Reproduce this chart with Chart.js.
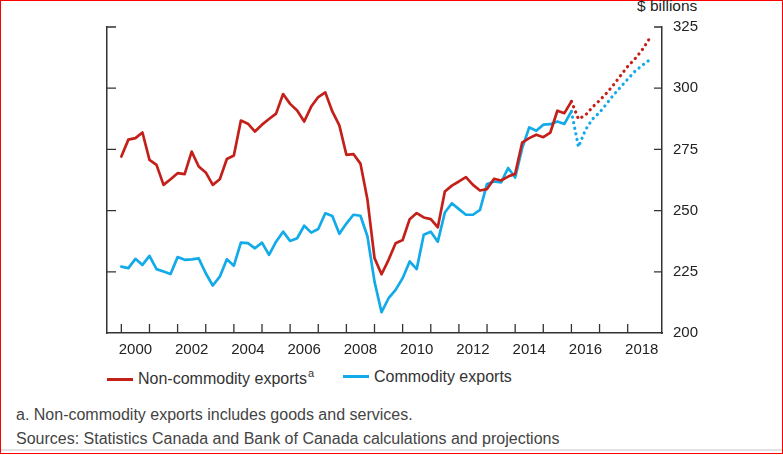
<!DOCTYPE html>
<html lang="en">
<head>
    <meta charset="UTF-8">
    <title>Non-commodity and commodity exports</title>
    <script src="https://cdn.jsdelivr.net/npm/chart.js"></script>
    <style>
        html, body { margin: 0; padding: 0; background: #fff; }
        body { width: 783px; height: 455px; overflow: hidden; position: relative;
               font-family: "Liberation Sans", Arial, sans-serif; color: #333; }
        #frame { position: absolute; left: 0; top: 0; width: 781px; height: 452px;
                 border: 1px solid #f00; }
        #strip { position: absolute; left: 1px; top: 449px; width: 781px; height: 2px; background: #e2e2e2; }
        #wrap { position: absolute; left: 0; top: 0; width: 783px; height: 360px; }
        #unit { position: absolute; left: 637px; top: -3px; font-size: 15.5px; color: #222; }
        #legend { position: absolute; left: 107px; top: 368px; font-size: 16px; color: #333; }
        .item { position: absolute; top: 0; white-space: nowrap; }
        .item i { display: inline-block; width: 26px; height: 3px; vertical-align: middle;
                  margin-right: 5px; position: relative; top: -1px; }
        .item sup { font-size: 11px; position: relative; top: -1px; margin-left: 1px; }
        .note { position: absolute; left: 16px; font-size: 16px; color: #444; white-space: nowrap; }
    </style>
</head>
<body>
<div id="frame"></div>
<div id="strip"></div>
<div id="unit">$ billions</div>
<div id="wrap"><canvas id="chart"></canvas></div>
<div id="legend">
    <div class="item" style="left:0"><i style="background:#c4201a"></i>Non-commodity exports<sup>a</sup></div>
    <div class="item" style="left:236px"><i style="background:#12aae8"></i>Commodity exports</div>
</div>
<div class="note" style="top:406px">a. Non-commodity exports includes goods and services.</div>
<div class="note" style="top:430px">Sources: Statistics Canada and Bank of Canada calculations and projections</div>

<script>
    // quarterly, 2000Q1 .. 2018Q4 ; projection starts after 2016Q1
    const startYear = 2000;
    const lastActual = 64;   // index of 2016Q1

    const nonCommodity = [
        272.1, 279.0, 279.6, 281.9, 270.7, 268.7, 260.5, 262.8,
        265.3, 264.9, 274.1, 268.0, 265.6, 260.5, 262.8, 271.1,
        272.5, 286.8, 285.5, 282.3, 285.1, 287.4, 289.6, 297.6,
        293.6, 290.9, 286.4, 292.5, 296.4, 298.3, 290.5, 284.8,
        272.8, 273.1, 269.2, 254.4, 230.6, 224.0, 229.9, 236.7,
        238.0, 246.5, 249.0, 247.2, 246.5, 243.2, 257.8, 260.2,
        261.9, 263.7, 260.5, 258.2, 258.8, 263.0, 262.3, 263.9,
        265.0, 277.8, 279.6, 281.0, 280.0, 281.9, 290.8, 289.8,
        294.6, 287.4, 289.0, 292.3, 295.0, 298.0, 301.4, 305.2,
        308.9, 311.9, 315.4, 319.8
    ];

    const commodity = [
        227.1, 226.5, 230.3, 227.8, 231.5, 226.1, 225.1, 224.1,
        231.0, 229.9, 230.1, 230.5, 224.4, 219.4, 223.0, 230.1,
        227.5, 236.9, 236.7, 234.6, 236.9, 231.9, 237.3, 241.4,
        237.6, 238.7, 243.8, 241.0, 242.5, 248.9, 247.8, 240.5,
        244.7, 248.3, 247.9, 239.4, 221.0, 208.5, 214.2, 217.6,
        222.4, 229.2, 226.1, 240.1, 241.4, 237.3, 249.2, 253.0,
        250.6, 248.3, 248.3, 250.3, 260.9, 261.9, 261.5, 267.4,
        263.5, 275.5, 284.0, 282.6, 285.1, 285.3, 286.4, 285.4,
        290.5, 276.0, 283.0, 287.4, 290.1, 293.6, 297.3, 300.5,
        303.7, 306.8, 309.2, 311.3
    ];

    const yearLabels = [2000, 2002, 2004, 2006, 2008, 2010, 2012, 2014, 2016, 2018];
    const yTicks = [200, 225, 250, 275, 300, 325];

    const toPoints = arr => arr.map((v, i) => ({ x: startYear + i / 4, y: v }));
    const isProj = ctx => ctx.p0DataIndex >= lastActual;
    const projSegment = {
        borderDash: ctx => isProj(ctx) ? [0.1, 5.6] : undefined,
        borderWidth: ctx => isProj(ctx) ? 3.2 : undefined
    };

    // short tick marks pointing into the plot, like the printed chart
    const innerTicks = {
        id: "innerTicks",
        afterDraw(chart) {
            const c = chart.ctx, a = chart.chartArea;
            const xs = chart.scales.x, ys = chart.scales.y;
            c.save();
            c.strokeStyle = "#333";
            c.lineWidth = 1.3;
            c.beginPath();
            for (let yr = 2000; yr <= 2018; yr++) {
                const px = xs.getPixelForValue(yr);
                c.moveTo(px, a.bottom);
                c.lineTo(px, a.bottom - 9);
            }
            yTicks.forEach(v => {
                if (v === 200) return;
                const py = ys.getPixelForValue(v);
                c.moveTo(a.left, py);
                c.lineTo(a.left + 9, py);
                c.moveTo(a.right, py);
                c.lineTo(a.right - 8, py);
            });
            c.stroke();
            c.restore();
        }
    };

    new Chart(document.getElementById("chart"), {
        type: "line",
        data: {
            datasets: [{
                label: "Non-commodity exports",
                data: toPoints(nonCommodity),
                borderColor: "#c4201a",
                borderWidth: 2.7,
                borderCapStyle: "round",
                borderJoinStyle: "round",
                pointRadius: 0,
                tension: 0,
                segment: projSegment
            }, {
                label: "Commodity exports",
                data: toPoints(commodity),
                borderColor: "#12aae8",
                borderWidth: 2.7,
                borderCapStyle: "round",
                borderJoinStyle: "round",
                pointRadius: 0,
                tension: 0,
                segment: projSegment
            }]
        },
        options: {
            responsive: true,
            maintainAspectRatio: false,
            animation: false,
            layout: { padding: { left: 107, top: 27, right: 0, bottom: 0 } },
            plugins: { legend: { display: false }, tooltip: { enabled: false } },
            scales: {
                x: {
                    type: "linear",
                    min: 1999.49,
                    max: 2019.22,
                    grid: { drawOnChartArea: false, drawTicks: false },
                    border: { color: "#333", width: 1.5 },
                    afterBuildTicks: s => { s.ticks = yearLabels.map(y => ({ value: y + 0.5 })); },
                    afterFit: s => { s.height = 27; },
                    ticks: {
                        padding: 8,
                        color: "#222",
                        font: { family: "Liberation Sans", size: 15 },
                        maxRotation: 0,
                        autoSkip: false,
                        callback: v => String(Math.floor(v))
                    }
                },
                y: {
                    position: "right",
                    min: 200,
                    max: 325,
                    grid: { drawOnChartArea: false, drawTicks: false },
                    border: { color: "#333", width: 1.5 },
                    afterBuildTicks: s => { s.ticks = yTicks.map(v => ({ value: v })); },
                    afterFit: s => { s.width = 121; },
                    ticks: {
                        padding: 11,
                        color: "#222",
                        font: { family: "Liberation Sans", size: 15 }
                    }
                },
                y2: {
                    position: "left",
                    min: 200,
                    max: 325,
                    grid: { drawOnChartArea: false, drawTicks: false },
                    border: { color: "#333", width: 1.5 },
                    ticks: { display: false },
                    afterFit: s => { s.width = 0; }
                }
            }
        },
        plugins: [innerTicks]
    });
</script>
</body>
</html>
